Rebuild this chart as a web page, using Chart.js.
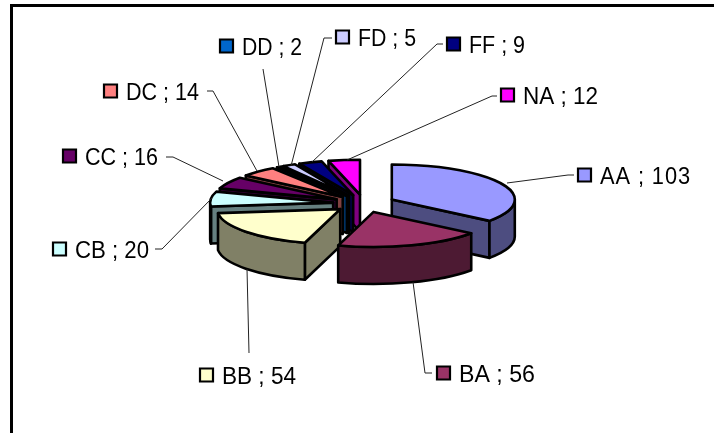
<!DOCTYPE html>
<html>
<head>
<meta charset="utf-8">
<style>
html,body{margin:0;padding:0;background:#fff;}
#wrap{width:714px;height:433px;position:relative;}
</style>
<script src="https://cdn.jsdelivr.net/npm/chart.js@4"></script>
</head>
<body>
<div id="wrap"><canvas id="c" width="714" height="433"></canvas></div>
<script>
const categories = ['AA','BA','BB','CB','CC','DC','DD','FD','FF','NA'];
const values = [103,56,54,20,16,14,2,5,9,12];
const colors = ['#9999FF','#993366','#FFFFCC','#CCFFFF','#660066','#FF8080','#0066CC','#CCCCFF','#000080','#FF00FF'];
// swatch left / centre-y for each data label
const labelBoxes = [[577,175],[436,373],[199,375],[52,249],[62,156],[103,91],[219,46],[335,37],[446,44],[500,95]];
// rendered width of each data label
const labelWidths = [91,76,74,74,73,73,60,58,56,75];
// leader lines
const leaders = [
 [[507,183],[568,175],[574,175]],
 [[413,282],[425,373],[432,373]],
 [[247,269],[249,353]],
 [[155,249],[162,249],[213,197]],
 [[166,157],[173,157],[223,181]],
 [[207,91],[213,91],[257,171]],
 [[263,69],[279,167]],
 [[291,166],[324,38],[332,38]],
 [[312,162],[437,44],[443,44]],
 [[347,160],[492,96],[497,96]]
];
const TILT = 0.285, DEPTH = 37, EXPLODE = 31, RADIUS = 123;

function shade(hex){
  const n = parseInt(hex.slice(1),16);
  const f = v => Math.round(v/2);
  return `rgb(${f(n>>16&255)},${f(n>>8&255)},${f(n&255)})`;
}

const pie3d = {
  id:'pie3d',
  beforeDatasetDraw(chart,args){
    const ctx = chart.ctx;
    const arcs = args.meta.data.map((el,i)=>{
      const p = el.getProps(['x','y','startAngle','endAngle','outerRadius'],true);
      const mid = (p.startAngle+p.endAngle)/2;
      const R = p.outerRadius;
      const ax = p.x + Math.cos(mid)*EXPLODE;
      const ay = p.y + Math.sin(mid)*EXPLODE*TILT;
      return {i,a0:p.startAngle,a1:p.endAngle,R,ax,ay,color:colors[i]};
    }).sort((a,b)=>a.ay-b.ay);
    ctx.save();
    ctx.lineJoin='round';
    ctx.lineWidth=2.6;
    ctx.strokeStyle='#000';
    const pt=(s,t,d=0)=>[s.ax+s.R*Math.cos(t), s.ay+s.R*TILT*Math.sin(t)+d];
    const arcPath=(s,t0,t1,d=0)=>{
      ctx.save();
      ctx.translate(s.ax,s.ay+d);
      ctx.scale(1,TILT);
      ctx.arc(0,0,s.R,t0,t1,t1<t0);
      ctx.restore();
    };
    const face=(s,t,col)=>{
      const e=pt(s,t);
      ctx.beginPath();
      ctx.moveTo(s.ax,s.ay);ctx.lineTo(e[0],e[1]);ctx.lineTo(e[0],e[1]+DEPTH);ctx.lineTo(s.ax,s.ay+DEPTH);ctx.closePath();
      ctx.fillStyle=col;ctx.fill();ctx.stroke();
    };
    for(const s of arcs){
      const dark=shade(s.color);
      if(Math.cos(s.a0)<-1e-6) face(s,s.a0,dark);
      if(Math.cos(s.a1)>1e-6) face(s,s.a1,dark);
      const TAU=Math.PI*2;
      for(const k of [-1,0,1]){
        const lo=Math.max(s.a0,k*TAU), hi=Math.min(s.a1,k*TAU+Math.PI);
        if(hi>lo){
          ctx.beginPath();
          arcPath(s,lo,hi,0);
          arcPath(s,hi,lo,DEPTH);
          ctx.closePath();
          ctx.fillStyle=dark;ctx.fill();ctx.stroke();
        }
      }
      ctx.beginPath();
      ctx.moveTo(s.ax,s.ay);
      arcPath(s,s.a0,s.a1,0);
      ctx.closePath();
      ctx.fillStyle=s.color;ctx.fill();ctx.stroke();
    }
    ctx.restore();
    return false;
  },
  afterDraw(chart){
    const ctx=chart.ctx;
    ctx.save();
    // chart frame: the right and bottom edges fall outside the picture
    ctx.strokeStyle='#000';ctx.lineWidth=3;
    ctx.beginPath();ctx.moveTo(11.5,433);ctx.lineTo(11.5,5.5);ctx.lineTo(714,5.5);ctx.stroke();
    // leaders
    ctx.lineWidth=1;ctx.strokeStyle='#222';
    leaders.forEach(l=>{
      ctx.beginPath();
      l.forEach((p,j)=>j?ctx.lineTo(p[0],p[1]):ctx.moveTo(p[0],p[1]));
      ctx.stroke();
    });
    // labels
    ctx.textBaseline='alphabetic';
    categories.forEach((c,i)=>{
      const [x,y]=labelBoxes[i];
      ctx.fillStyle=colors[i];ctx.strokeStyle='#000';ctx.lineWidth=2.2;
      ctx.beginPath();ctx.rect(x+1,y-6.5,13,13);ctx.fill();ctx.stroke();
      ctx.fillStyle='#000';
      ctx.font='24px "Liberation Sans"';
      const text=c+' ; '+values[i];
      ctx.letterSpacing = i===0 ? '1px' : '0px';
      const sx=labelWidths[i]/ctx.measureText(text).width;
      ctx.save();
      ctx.translate(x+23,y+8.5);
      ctx.scale(sx,1);
      ctx.fillText(text,0,0);
      ctx.restore();
    });
    ctx.restore();
  }
};

new Chart(document.getElementById('c'),{
  type:'pie',
  data:{labels:categories,datasets:[{data:values,backgroundColor:colors,borderWidth:0}]},
  options:{
    responsive:false,animation:false,radius:RADIUS,
    layout:{padding:{left:14,bottom:26}},
    plugins:{legend:{display:false},tooltip:{enabled:false}}
  },
  plugins:[pie3d]
});
</script>
</body>
</html>
